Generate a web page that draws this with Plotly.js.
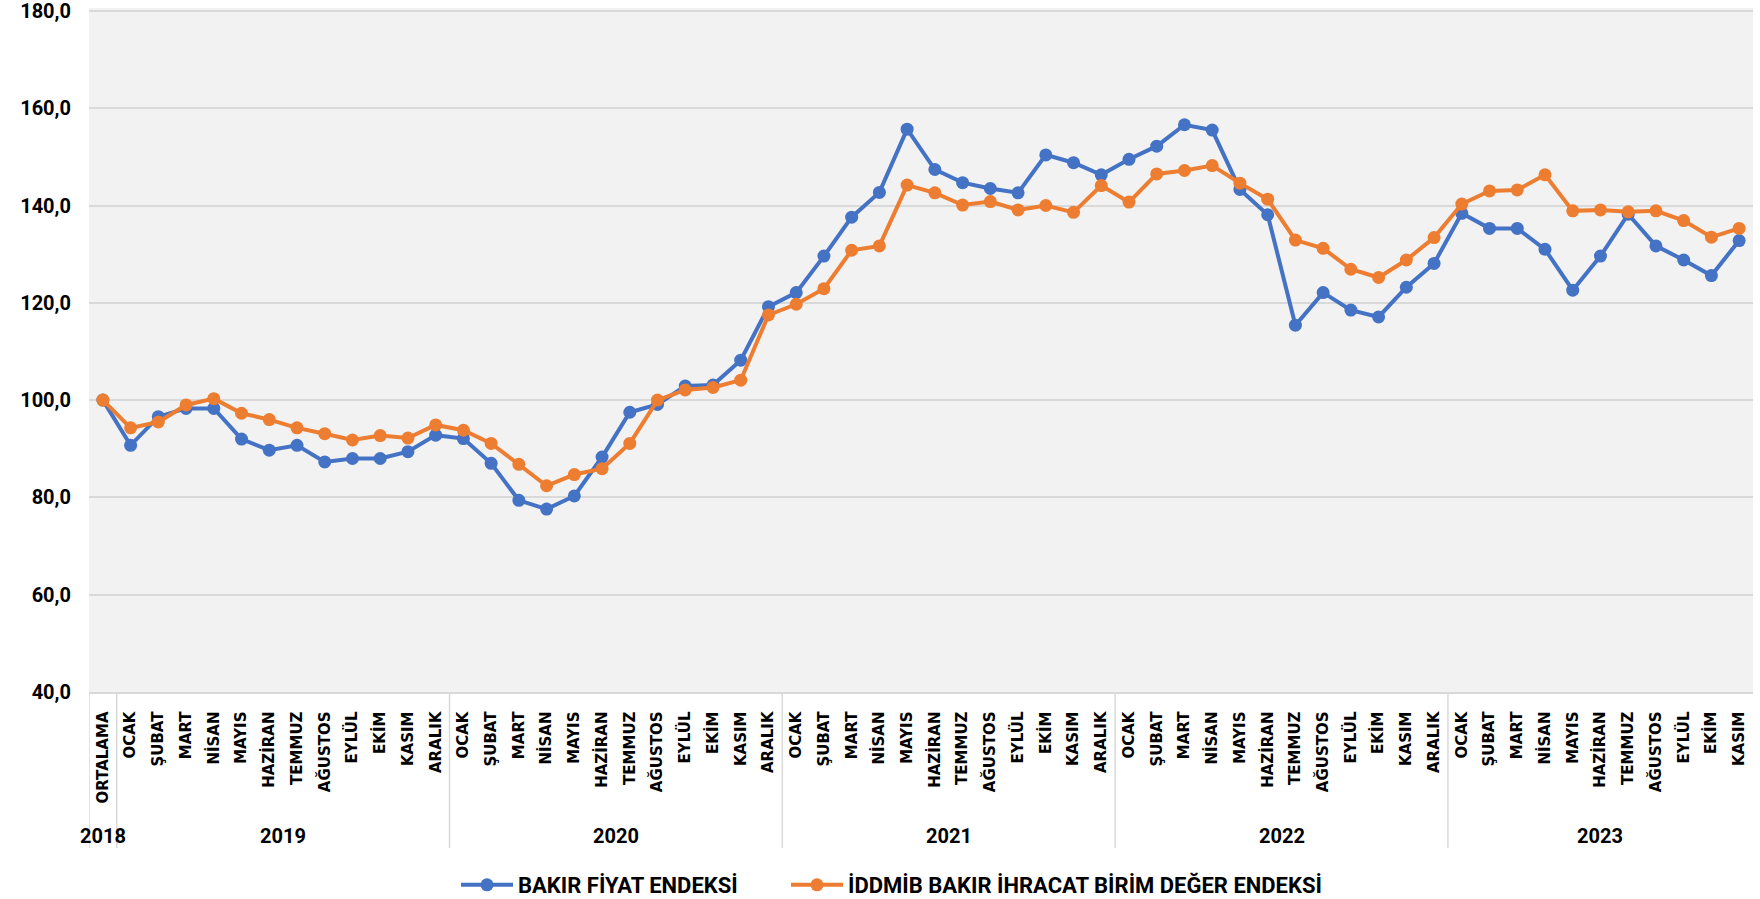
<!DOCTYPE html>
<html>
<head>
<meta charset="utf-8">
<script src="https://cdn.plot.ly/plotly-3.0.1.min.js"></script>
<style>
  html, body { margin: 0; padding: 0; background: #ffffff; }
  #chart { width: 1760px; height: 899px; }
</style>
</head>
<body>
<div id="chart"></div>
<script>
// ---- data ----
const monthNames = ['OCAK','ŞUBAT','MART','NİSAN','MAYIS','HAZİRAN','TEMMUZ','AĞUSTOS','EYLÜL','EKİM','KASIM','ARALIK'];
const years = ['2018','2019','2020','2021','2022','2023'];
const yearMonths = [['ORTALAMA'], monthNames, monthNames, monthNames, monthNames, monthNames.slice(0, 11)];

const seriesNames = ['BAKIR FİYAT ENDEKSİ', 'İDDMİB BAKIR İHRACAT BİRİM DEĞER ENDEKSİ'];
const yTicks = [40, 60, 80, 100, 120, 140, 160, 180];

const bakirFiyat = [
  100.0,
  90.7, 96.6, 98.3, 98.3, 92.0, 89.7, 90.7, 87.3, 88.0, 88.0, 89.4, 92.8,
  92.1, 87.0, 79.4, 77.6, 80.3, 88.3, 97.5, 99.1, 102.9, 103.1, 108.2, 119.2,
  122.1, 129.6, 137.6, 142.7, 155.7, 147.4, 144.7, 143.5, 142.6, 150.4, 148.8, 146.3,
  149.5, 152.2, 156.6, 155.5, 143.3, 138.1, 115.4, 122.1, 118.5, 117.1, 123.2, 128.1,
  138.4, 135.3, 135.3, 131.0, 122.6, 129.6, 138.2, 131.7, 128.8, 125.6, 132.8
];
const ihracatBirim = [
  100.0,
  94.3, 95.5, 99.0, 100.3, 97.3, 96.0, 94.3, 93.1, 91.8, 92.7, 92.2, 94.9,
  93.8, 91.1, 86.8, 82.4, 84.7, 85.9, 91.1, 100.0, 102.1, 102.6, 104.1, 117.5,
  119.7, 122.9, 130.8, 131.7, 144.2, 142.6, 140.1, 140.8, 139.1, 140.0, 138.6, 144.1,
  140.7, 146.5, 147.2, 148.2, 144.6, 141.3, 132.9, 131.2, 126.9, 125.2, 128.8, 133.4,
  140.3, 143.0, 143.2, 146.3, 138.9, 139.1, 138.7, 138.9, 136.9, 133.5, 135.3
];

// ---- build categorical positions ----
const monthLabels = [];
const groupStart = [];
yearMonths.forEach(function (ms) {
  groupStart.push(monthLabels.length);
  ms.forEach(function (m) { monthLabels.push(m); });
});
const xIdx = monthLabels.map(function (_, i) { return i; });

const plotBottomPx = 692, plotTopPx = 8, plotHeight = plotBottomPx - plotTopPx;
function paperY(px) { return (plotBottomPx - px) / plotHeight; }

const boldFont = 'Roboto, Liberation Sans, sans-serif';

const traces = [
  {
    x: xIdx, y: bakirFiyat, name: seriesNames[0], type: 'scatter', mode: 'lines+markers',
    line: { color: '#4472C4', width: 4 },
    marker: { color: '#4472C4', size: 13 },
    legend: 'legend'
  },
  {
    x: xIdx, y: ihracatBirim, name: seriesNames[1], type: 'scatter', mode: 'lines+markers',
    line: { color: '#ED7D31', width: 4 },
    marker: { color: '#ED7D31', size: 13 },
    legend: 'legend2'
  }
];

// year labels and dividers
const annotations = [];
const shapes = [];
years.forEach(function (yr, g) {
  const s = groupStart[g];
  const e = s + yearMonths[g].length - 1;
  annotations.push({
    x: (s + e) / 2, xref: 'x', y: paperY(836), yref: 'paper',
    text: yr, showarrow: false, xanchor: 'center', yanchor: 'middle',
    font: { family: boldFont, size: 20, color: '#000000', weight: 'bold' }
  });
  shapes.push({
    type: 'line', xref: 'x', yref: 'paper',
    x0: s - 0.5, x1: s - 0.5, y0: 0, y1: paperY(848),
    line: { color: '#D9D9D9', width: 1.5 }
  });
});

function legendAt(px) {
  return {
    orientation: 'h', xref: 'container', yref: 'container',
    x: px / 1760, xanchor: 'left', y: (899 - 885) / 899, yanchor: 'middle',
    font: { family: boldFont, size: 22, color: '#000000', weight: 'bold' },
    bgcolor: 'rgba(0,0,0,0)', itemwidth: 52
  };
}

const layout = {
  width: 1760, height: 899,
  paper_bgcolor: '#ffffff', plot_bgcolor: '#F2F2F2',
  separators: ',.',
  margin: { l: 89, r: 7, t: plotTopPx, b: 899 - plotBottomPx, pad: 0 },
  showlegend: true,
  legend: legendAt(456),
  legend2: legendAt(786),
  xaxis: {
    range: [-0.5, monthLabels.length - 0.5],
    tickmode: 'array', tickvals: xIdx, ticktext: monthLabels,
    tickangle: -90, ticks: '', showgrid: false, zeroline: false,
    showline: true, linecolor: '#D9D9D9', linewidth: 1.5,
    ticklabelstandoff: 12,
    tickfont: { family: 'DejaVu Sans, Verdana, sans-serif', size: 15, color: '#000000', weight: 'bold' },
    fixedrange: true
  },
  yaxis: {
    range: [40, 180.6], tickmode: 'array', tickvals: yTicks, tickformat: '.1f',
    showgrid: true, gridcolor: '#D9D9D9', gridwidth: 2,
    zeroline: false, showline: false, ticks: '',
    ticklabelstandoff: 17, ticklabeloverflow: 'allow',
    tickfont: { family: boldFont, size: 20, color: '#000000', weight: 'bold' },
    fixedrange: true
  },
  annotations: annotations,
  shapes: shapes
};

Plotly.newPlot('chart', traces, layout, { displayModeBar: false, staticPlot: true });
</script>
</body>
</html>
